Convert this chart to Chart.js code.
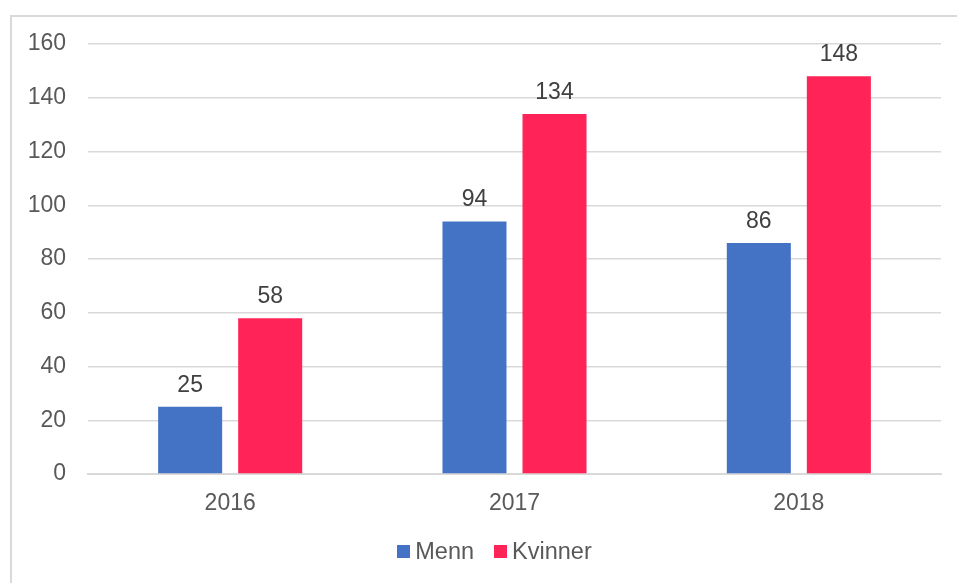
<!DOCTYPE html>
<html>
<head>
<meta charset="utf-8">
<script src="https://cdn.jsdelivr.net/npm/chart.js@4"></script>
<style>
  body { margin: 0; background: #fff; }
  #wrap { position: relative; width: 957px; height: 583px; }
  #legend {
    position: absolute; left: 16px; top: 538px; width: 957px;
    display: flex; justify-content: center;
    font-family: 'Liberation Sans', Arial, sans-serif; font-size: 23.5px; color: #595959;
  }
  .item { display: flex; align-items: center; margin: 0 10px; }
  .box { width: 13px; height: 13px; margin-right: 5px; }
</style>
</head>
<body>
<div id="wrap">
  <canvas id="myChart" width="957" height="583"></canvas>
  <div id="legend"></div>
</div>
<script>
var years = ['2016', '2017', '2018'];
var seriesNames = ['Menn', 'Kvinner'];
var mennValues = [25, 94, 86];
var kvinnerValues = [58, 134, 148];
var barColors = ['#4472C4', '#FF2358'];

var frame = {
  id: 'frame',
  beforeDraw(chart) {
    var ctx = chart.ctx;
    ctx.save();
    ctx.strokeStyle = '#d9d9d9';
    ctx.lineWidth = 2;
    ctx.beginPath();
    ctx.moveTo(11, 583);
    ctx.lineTo(11, 16);
    ctx.lineTo(957, 16);
    ctx.stroke();
    ctx.restore();
  },
};

var barLabels = {
  id: 'barLabels',
  afterDatasetsDraw(chart) {
    var ctx = chart.ctx;
    ctx.save();
    ctx.font = '23px "Liberation Sans", Arial, sans-serif';
    ctx.fillStyle = '#404040';
    ctx.textAlign = 'center';
    ctx.textBaseline = 'alphabetic';
    chart.data.datasets.forEach(function (ds, i) {
      chart.getDatasetMeta(i).data.forEach(function (bar, j) {
        ctx.fillText(ds.data[j], bar.x, bar.y - 15);
      });
    });
    ctx.restore();
  },
};

var datasets = [
  { label: seriesNames[0], data: mennValues, backgroundColor: barColors[0] },
  { label: seriesNames[1], data: kvinnerValues, backgroundColor: barColors[1] },
];

new Chart('myChart', {
  type: 'bar',
  data: { labels: years, datasets: datasets },
  options: {
    responsive: false,
    animation: false,
    layout: { padding: { top: 44, right: 16, left: 0, bottom: 0 } },
    datasets: { bar: { categoryPercentage: 0.563, barPercentage: 0.8 } },
    plugins: { legend: { display: false }, tooltip: { enabled: false } },
    scales: {
      x: {
        grid: { display: false },
        border: { color: '#d9d9d9', width: 2 },
        ticks: {
          color: '#595959',
          padding: 8,
          font: { family: '"Liberation Sans", Arial, sans-serif', size: 23 },
        },
        afterFit: function (s) { s.height = 109; },
      },
      y: {
        min: 0,
        max: 160,
        grid: { color: '#d9d9d9', lineWidth: 1.5, drawTicks: false },
        border: { display: false },
        ticks: {
          stepSize: 20,
          color: '#595959',
          padding: 22,
          font: { family: '"Liberation Sans", Arial, sans-serif', size: 23 },
        },
        afterFit: function (s) { s.width = 88; },
      },
    },
  },
  plugins: [frame, barLabels],
});

var legend = document.getElementById('legend');
datasets.forEach(function (ds) {
  var item = document.createElement('div');
  item.className = 'item';
  var box = document.createElement('span');
  box.className = 'box';
  box.style.background = ds.backgroundColor;
  var text = document.createElement('span');
  text.textContent = ds.label;
  item.appendChild(box);
  item.appendChild(text);
  legend.appendChild(item);
});
</script>
</body>
</html>
